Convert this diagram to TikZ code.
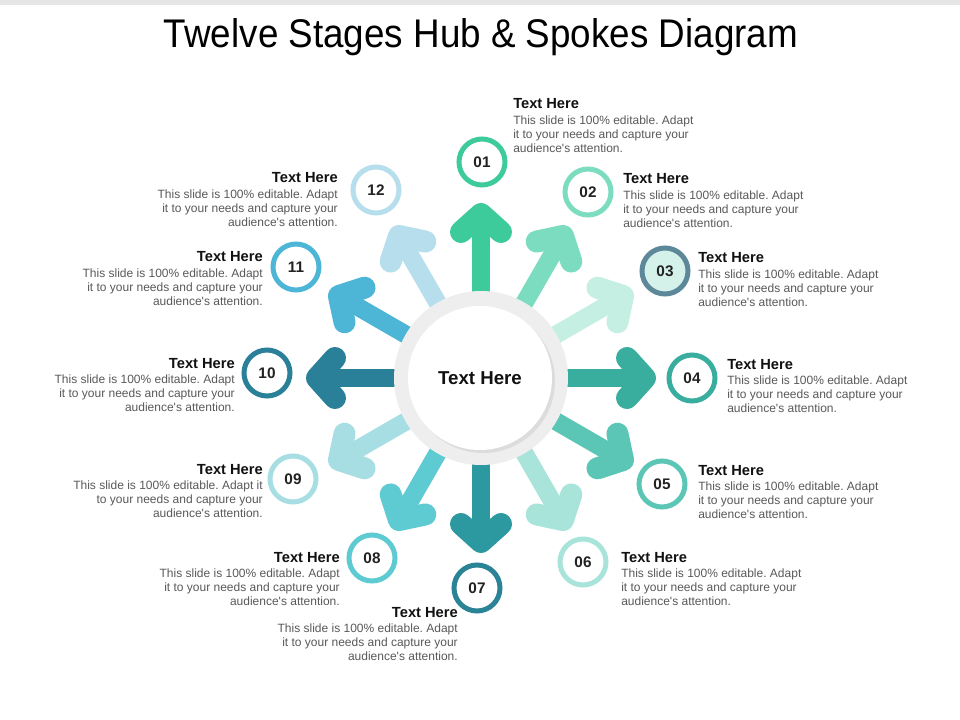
\documentclass[tikz,border=0pt]{standalone}
\usepackage{fontspec}
\setmainfont{Liberation Sans}
\newfontfamily\titlefont[FakeStretch=0.92]{Liberation Sans}
\definecolor{topbar}{HTML}{E6E6E6}
\definecolor{c01}{HTML}{3DCB9B}
\definecolor{c02}{HTML}{7CDCC0}
\definecolor{c03}{HTML}{C4EFE2}
\definecolor{c04}{HTML}{3AAE9E}
\definecolor{c05}{HTML}{5CC6B6}
\definecolor{c06}{HTML}{A9E4DB}
\definecolor{c07}{HTML}{2C98A0}
\definecolor{c08}{HTML}{5ECAD2}
\definecolor{c09}{HTML}{A6DEE3}
\definecolor{c10}{HTML}{2A8098}
\definecolor{c11}{HTML}{4DB6D6}
\definecolor{c12}{HTML}{B6DEEC}
\definecolor{ring03}{HTML}{5D8899}
\definecolor{fill03}{HTML}{D5F2EA}
\definecolor{ring07}{HTML}{2A8496}
\definecolor{hubring}{HTML}{EEEEEE}
\definecolor{hubshadow}{HTML}{DCDCDC}
\definecolor{titlec}{HTML}{111111}
\definecolor{bodyc}{HTML}{595959}
\definecolor{numc}{HTML}{222222}
\tikzset{
  spoke/.style={line width=13.5pt, line cap=butt},
  spokehead/.style={line width=16.5pt, line join=round, line cap=round},
  stage/.style={circle, minimum size=34.5pt, inner sep=0pt, line width=3.75pt, fill=white,
    font=\fontsize{11.5}{13}\selectfont\bfseries, text=numc},
  ttl/.style={font=\fontsize{11}{13}\selectfont\bfseries, text=titlec, inner sep=0pt},
  bdy/.style={font=\fontsize{9}{10.5}\selectfont, text=bodyc, inner sep=0pt},
  hub/.style={circle, minimum size=108pt, inner sep=0pt, fill=white,
    font=\fontsize{14}{16}\selectfont\bfseries, text=titlec},
}
\frenchspacing
\newcommand{\bodytxt}{This slide is 100\% editable. Adapt\\it to your needs and capture your\\audience\textquotesingle s attention.}
\begin{document}
\begin{tikzpicture}[x=0.75pt,y=-0.75pt]
\useasboundingbox (0,0) rectangle (960,720);
\fill[white] (0,0) rectangle (960,720);
\fill[topbar] (0,0) rectangle (960,5);
\node[font=\titlefont\fontsize{30}{34}\selectfont, text=black, inner sep=0pt] (title) at (481,37) {Twelve Stages Hub \& Spokes Diagram};

% spokes
\foreach \ang/\col in {90/c01,60/c02,30/c03,0/c04,-30/c05,-60/c06,-90/c07,-120/c08,-150/c09,180/c10,150/c11,120/c12}{
  \begin{scope}[shift={(481,378)}, rotate=\ang]
    \draw[spoke, draw=\col] (60,0) -- (160,0);
    \draw[spokehead, draw=\col] (146,-20) -- (164,0) -- (146,20);
  \end{scope}
}

% hub
\fill[hubring] (481,378) circle[radius=87];
\fill[hubshadow] (483,381) circle[radius=72];
\node[hub] (hub) at (480,378) {Text Here};

% stage circles
\node[stage, draw=c01] (s01) at (482,162) {01};
\node[stage, draw=c02] (s02) at (588,192) {02};
\node[stage, draw=ring03, fill=fill03] (s03) at (665,271) {03};
\node[stage, draw=c04] (s04) at (692,378) {04};
\node[stage, draw=c05] (s05) at (662,484) {05};
\node[stage, draw=c06] (s06) at (583,562) {06};
\node[stage, draw=ring07] (s07) at (477,588) {07};
\node[stage, draw=c08] (s08) at (372,558) {08};
\node[stage, draw=c09] (s09) at (293,479) {09};
\node[stage, draw=c10] (s10) at (267,373) {10};
\node[stage, draw=c11] (s11) at (296,267) {11};
\node[stage, draw=c12] (s12) at (376,190) {12};

% right-side texts
\node[ttl, anchor=base west] (h01) at (513,109) {Text Here};
\node[bdy, anchor=north west, align=left] (b01) at (513,116) {\bodytxt};
\node[ttl, anchor=base west] (h02) at (623,184) {Text Here};
\node[bdy, anchor=north west, align=left] (b02) at (623,191) {\bodytxt};
\node[ttl, anchor=base west] (h03) at (698,263) {Text Here};
\node[bdy, anchor=north west, align=left] (b03) at (698,270) {\bodytxt};
\node[ttl, anchor=base west] (h04) at (727,369) {Text Here};
\node[bdy, anchor=north west, align=left] (b04) at (727,376) {\bodytxt};
\node[ttl, anchor=base west] (h05) at (698,475) {Text Here};
\node[bdy, anchor=north west, align=left] (b05) at (698,482) {\bodytxt};
\node[ttl, anchor=base west] (h06) at (621,562) {Text Here};
\node[bdy, anchor=north west, align=left] (b06) at (621,569) {\bodytxt};

% left-side texts
\node[ttl, anchor=base east] (h07) at (458,617) {Text Here};
\node[bdy, anchor=north east, align=right] (b07) at (458,624) {\bodytxt};
\node[ttl, anchor=base east] (h08) at (340,562) {Text Here};
\node[bdy, anchor=north east, align=right] (b08) at (340,569) {\bodytxt};
\node[ttl, anchor=base east] (h09) at (263,474) {Text Here};
\node[bdy, anchor=north east, align=right] (b09) at (263,481) {This slide is 100\% editable. Adapt it\\to your needs and capture your\\audience\textquotesingle s attention.};
\node[ttl, anchor=base east] (h10) at (235,368) {Text Here};
\node[bdy, anchor=north east, align=right] (b10) at (235,375) {\bodytxt};
\node[ttl, anchor=base east] (h11) at (263,262) {Text Here};
\node[bdy, anchor=north east, align=right] (b11) at (263,269) {\bodytxt};
\node[ttl, anchor=base east] (h12) at (338,183) {Text Here};
\node[bdy, anchor=north east, align=right] (b12) at (338,190) {\bodytxt};
\end{tikzpicture}
\end{document}
